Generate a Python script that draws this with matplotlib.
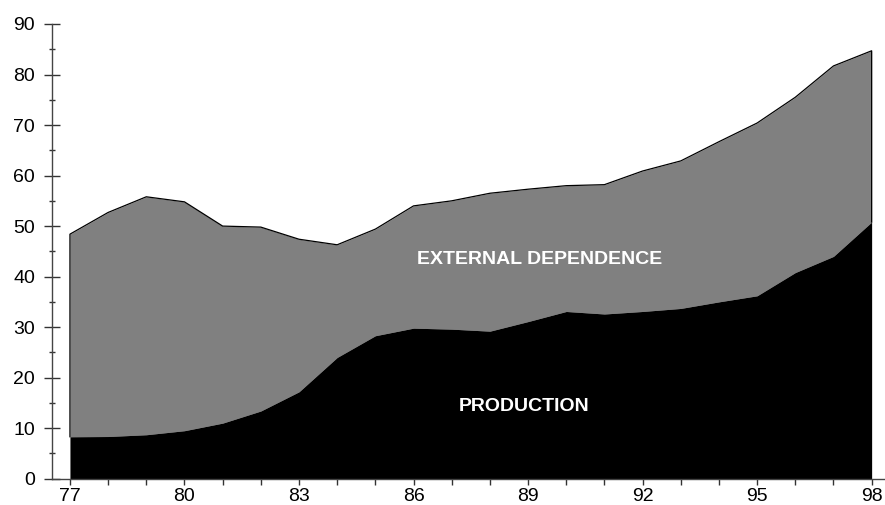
import numpy as np
import matplotlib.pyplot as plt

plt.rcParams['font.family'] = ['Liberation Sans', 'DejaVu Sans']

# Data
years = np.arange(77, 99)
total = [48.4, 52.7, 55.8, 54.8, 50.0, 49.8, 47.4, 46.3, 49.4, 54.0, 55.0,
         56.5, 57.3, 58.0, 58.2, 60.9, 62.9, 66.7, 70.4, 75.5, 81.7, 84.7]
production = [8.3, 8.35, 8.7, 9.5, 11.0, 13.4, 17.2, 24.0, 28.3, 29.8, 29.6,
              29.2, 31.1, 33.1, 32.6, 33.1, 33.7, 35.0, 36.2, 40.8, 44.0, 50.8]
label_years = [77, 80, 83, 86, 89, 92, 95, 98]

fig = plt.figure(figsize=(8.85, 5.05), dpi=100)
ax = fig.add_axes([52 / 885, 26.3 / 505, 1 - 52 / 885, 454.7 / 505])

# stacked areas
ax.fill_between(years, production, total, color='#808080', linewidth=0)
ax.fill_between(years, 0, production, color='black', linewidth=0)

# outline of the top area, including the two side edges
edge_x = np.concatenate([[years[0]], years, [years[-1]]])
edge_y = np.concatenate([[production[0]], total, [production[-1]]])
ax.plot(edge_x, edge_y, color='black', linewidth=0.9)

ax.text(89.3, 43.3, 'EXTERNAL DEPENDENCE', color='white', fontsize=14,
        fontweight='bold', ha='center', va='center')
ax.text(88.9, 14.3, 'PRODUCTION', color='white', fontsize=14,
        fontweight='bold', ha='center', va='center')

ax.set_xlim(76.53, 98.35)
ax.set_ylim(0, 90)

ax.set_xticks(label_years)
ax.set_xticks(years, minor=True)
ax.set_yticks(np.arange(0, 91, 10))
ax.set_yticks(np.arange(5, 90, 10), minor=True)

ax.spines['top'].set_visible(False)
ax.spines['right'].set_visible(False)
for s in ['left', 'bottom']:
    ax.spines[s].set_color('#444444')
    ax.spines[s].set_linewidth(1.0)

ax.tick_params(axis='y', which='major', direction='inout', length=11.5,
               width=1, color='#333333', labelsize=14, pad=6.5)
ax.tick_params(axis='y', which='minor', direction='inout', length=5,
               width=1, color='#333333')
ax.tick_params(axis='x', which='both', direction='out', length=4.5,
               width=1, color='#333333', labelsize=14, pad=2.5)

fig.savefig('out.png', dpi=100)
